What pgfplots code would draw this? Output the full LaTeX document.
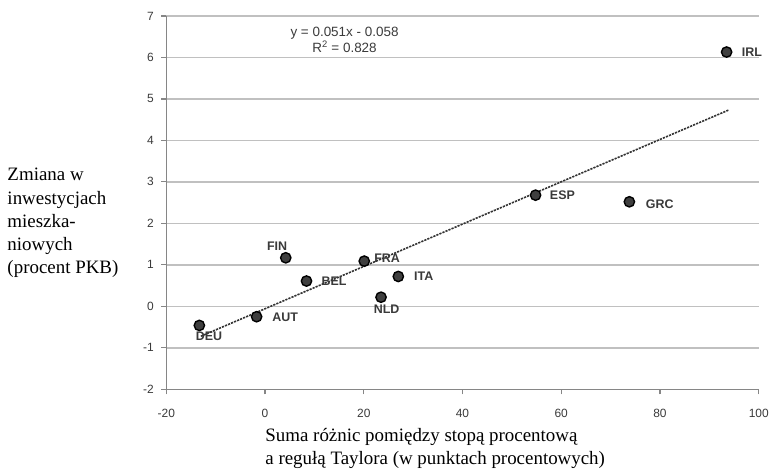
\documentclass[border=0pt]{standalone}
\usepackage{pgfplots}
\usepackage{pgfplotstable}
\pgfplotsset{compat=1.18}
\usepackage{fontspec}
\setmainfont{Liberation Sans}
\newfontfamily\seriffont{Liberation Serif}
\definecolor{gridc}{HTML}{C0C0C0}
\definecolor{axc}{HTML}{868686}
\definecolor{txt}{HTML}{3A3A3A}
\definecolor{mk}{HTML}{3F3F3F}

\pgfplotstableread{
x y lab dx dy
-13.3 -0.46 DEU 9.6 -11.3
-1.7 -0.25 AUT 28.6 -1
4.2 1.17 FIN -8.7 12
8.4 0.61 BEL 27.7 -0.6
20.1 1.09 FRA 23 2.7
23.5 0.22 NLD 5.6 -12.3
27.0 0.72 ITA 25.5 0
54.8 2.68 ESP 27 0
73.8 2.52 GRC 30.5 -2
93.5 6.13 IRL 25.5 0
}\data

\begin{document}
\begin{tikzpicture}
\begin{axis}[
  at={(0,0)}, anchor=south west,
  width=595pt, height=375pt, scale only axis,
  xmin=-20, xmax=100, ymin=-2, ymax=7,
  xtick={-20,0,...,100}, ytick={-2,-1,...,7},
  axis x line*=bottom, axis y line*=left,
  axis line style={axc, line width=1.4pt},
  ymajorgrids, major grid style={gridc, line width=1.5pt},
  tick align=outside, major tick length=5pt,
  tick style={axc, line width=1.2pt},
  ticklabel style={font=\fontsize{12}{14}\selectfont, text=txt},
  xticklabel style={yshift=-11pt},
  yticklabel style={xshift=-4pt},
  /pgf/number format/assume math mode=true,
  clip=false,
]
\addplot[line width=1.6pt, color=black!80, dash pattern=on 2.2pt off 1.1pt] coordinates {(-13.0,-0.721) (94,4.736)};
\addplot[only marks, mark=*, mark size=5.2pt, mark options={fill=mk, draw=black, line width=1.4pt},
  point meta=explicit symbolic,
  visualization depends on={\thisrow{dx} \as \dx},
  visualization depends on={\thisrow{dy} \as \dy},
  nodes near coords={\pgfplotspointmeta},
  every node near coord/.append style={anchor=center, xshift=\dx pt, yshift=\dy pt,
    font=\fontsize{12.5}{14}\selectfont\bfseries, text=txt},
] table[x=x, y=y, meta=lab] {\data};
\node[align=center, font=\fontsize{13.5}{16}\selectfont, text=txt] at (179pt,351pt) {y = 0.051x - 0.058\\R\textsuperscript{2} = 0.828};
\end{axis}
\node[anchor=west, align=left, font=\seriffont\fontsize{19}{23.3}\selectfont] at (-163pt,167pt)
  {Zmiana w\\inwestycjach\\mieszka-\\niowych\\(procent PKB)};
\node[anchor=west, align=left, font=\seriffont\fontsize{19}{23}\selectfont] at (96pt,-59pt)
  {Suma różnic pomiędzy stopą procentową\\a regułą Taylora (w punktach procentowych)};
\path[use as bounding box] (-167pt,-80pt) rectangle (605pt,391pt);
\end{tikzpicture}
\end{document}
